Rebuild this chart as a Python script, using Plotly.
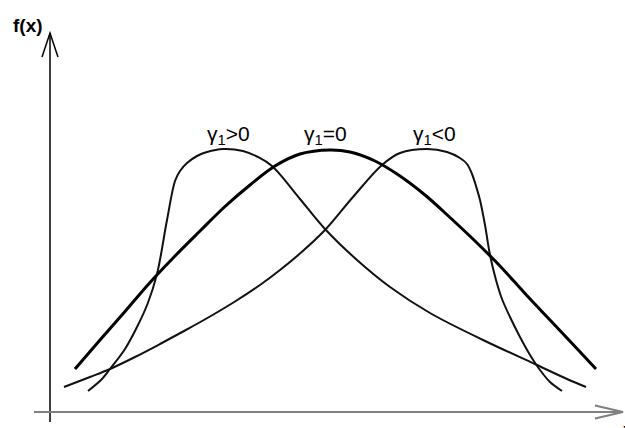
import plotly.graph_objects as go

# curva simétrica (gamma1 = 0)
x_sim = [0.5, 1.0, 1.5, 2.0, 2.5, 3.0, 3.5, 4.0, 4.5, 5.0, 5.6, 6.0, 6.5, 7.0, 7.5, 8.0,
         8.5, 9.0, 9.5, 10.0, 10.5, 10.92]
y_sim = [0.82, 1.4, 1.97, 2.55, 3.08, 3.58, 4.07, 4.5, 4.88, 5.12, 5.2, 5.16, 4.98, 4.68,
         4.3, 3.85, 3.38, 2.88, 2.33, 1.8, 1.27, 0.82]

# assimetria positiva (gamma1 > 0)
x_pos = [0.76, 1.04, 1.2, 1.5, 1.74, 1.95, 2.14, 2.34, 2.5, 2.6, 2.74, 2.94, 3.14, 3.46, 3.86,
         4.16, 4.44, 5.0, 5.5, 6.14, 6.8, 7.6, 8.66, 9.74, 10.34, 10.72]
y_pos = [0.38, 0.62, 0.82, 1.22, 1.66, 2.12, 2.72, 3.8, 4.58, 4.78, 4.94, 5.08, 5.16, 5.22, 5.18,
         5.06, 4.88, 4.22, 3.62, 3.0, 2.46, 1.94, 1.4, 0.9, 0.62, 0.46]

# assimetria negativa (gamma1 < 0)
x_neg = [0.28, 0.8, 1.2, 1.7, 2.2, 2.7, 3.2, 3.7, 4.2, 4.6, 5.0, 5.5, 6.06, 6.64, 7.0, 7.54,
         7.94, 8.2, 8.34, 8.44, 8.52, 8.6, 8.7, 8.8, 8.92, 9.04, 9.2, 9.4, 9.6, 9.8, 10.0, 10.24]
y_neg = [0.46, 0.66, 0.82, 1.06, 1.32, 1.59, 1.87, 2.17, 2.5, 2.8, 3.13, 3.6, 4.26, 4.9, 5.14, 5.22,
         5.16, 5.04, 4.92, 4.72, 4.48, 4.2, 3.7, 3.1, 2.6, 2.22, 1.86, 1.46, 1.1, 0.8, 0.56, 0.38]

rotulos = ['γ<sub>1</sub>&gt;0', 'γ<sub>1</sub>=0', 'γ<sub>1</sub>&lt;0']
x_rotulos = [3.56, 5.5, 7.68]

fig = go.Figure()
fig.add_trace(go.Scatter(x=x_pos, y=y_pos, mode='lines', line=dict(color='#111', width=2, shape='spline')))
fig.add_trace(go.Scatter(x=x_neg, y=y_neg, mode='lines', line=dict(color='#111', width=2, shape='spline')))
fig.add_trace(go.Scatter(x=x_sim, y=y_sim, mode='lines', line=dict(color='#000', width=3, shape='spline')))

# eixos com setas abertas
fig.add_shape(type='line', x0=0, y0=-0.24, x1=0, y1=7.54, line=dict(color='#000', width=1.5))
fig.add_shape(type='path', path='M -0.16,7.06 L 0,7.54 L 0.16,7.06', line=dict(color='#000', width=1.5))
fig.add_shape(type='line', x0=-0.32, y0=-0.04, x1=11.46, y1=-0.04, line=dict(color='#808080', width=2))
fig.add_shape(type='path', path='M 10.9,0.09 L 11.46,-0.04 L 10.9,-0.17', line=dict(color='#808080', width=2))

for txt, xr in zip(rotulos, x_rotulos):
    fig.add_annotation(x=xr, y=5.5, text=txt, showarrow=False,
                       font=dict(family='Liberation Sans', size=21, color='#000'))
fig.add_annotation(x=-0.44, y=7.7, text='<b>f(x)</b>', showarrow=False,
                   font=dict(family='Liberation Sans', size=19, color='#000'))
fig.add_annotation(x=11.42, y=-0.18, text='x', showarrow=False, xanchor='left', yanchor='top',
                   font=dict(family='Liberation Sans', size=16, color='#000'))

fig.update_xaxes(range=[-1, 11.5], visible=False)
fig.update_yaxes(range=[-0.36, 8.2], visible=False)
fig.update_layout(width=625, height=428, margin=dict(l=0, r=0, t=0, b=0),
                  plot_bgcolor='white', paper_bgcolor='white', showlegend=False)

fig.write_html("out.html", config={'displayModeBar': False},
               post_script="document.body.style.margin='0';")
